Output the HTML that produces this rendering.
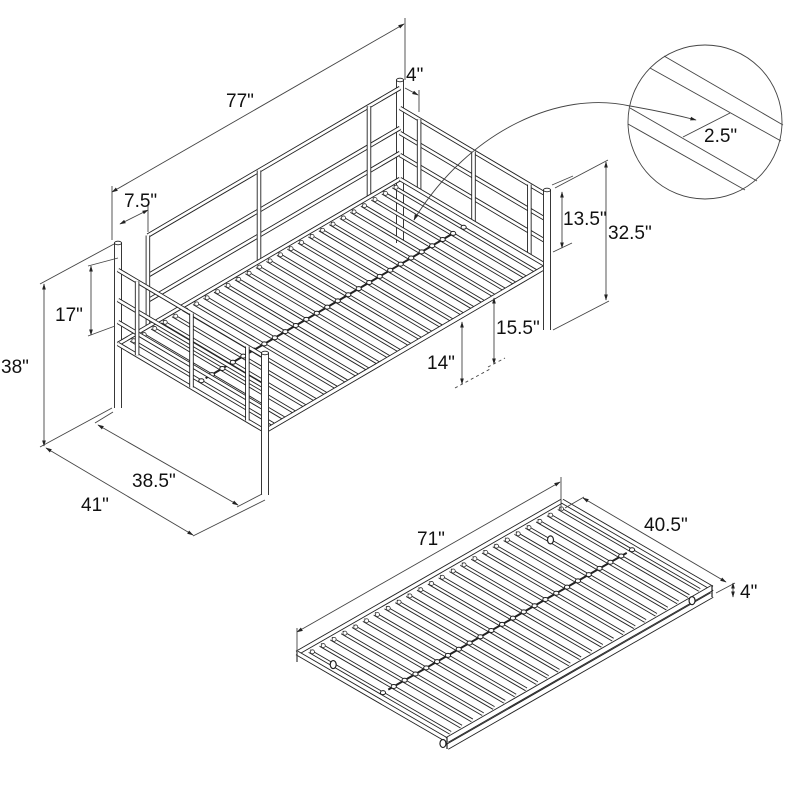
<!DOCTYPE html>
<html><head><meta charset="utf-8"><style>
html,body{margin:0;padding:0;background:#fff;}
svg{display:block;}
text{font-family:"Liberation Sans",sans-serif;font-size:19px;fill:#111;}
</style></head><body>
<svg id="s" width="800" height="800" viewBox="0 0 800 800" xmlns="http://www.w3.org/2000/svg">
<defs><marker id="a" viewBox="0 0 10 10" refX="9" refY="5" markerWidth="7" markerHeight="7" orient="auto-start-reverse"><path d="M0,2 L10,5 L0,8z" fill="#222"/></marker></defs>
<g id="g"></g>
<g stroke="#444" stroke-width="0.9" fill="none">
<line x1="112" y1="192" x2="404" y2="24" marker-start="url(#a)" marker-end="url(#a)"/>
<line x1="405" y1="18" x2="405" y2="80"/><line x1="112" y1="186" x2="112" y2="240"/>
<line x1="405" y1="88" x2="418" y2="95" marker-end="url(#a)"/><line x1="419" y1="90" x2="419" y2="112"/>
<line x1="120" y1="224" x2="148" y2="210" marker-start="url(#a)" marker-end="url(#a)"/><line x1="148" y1="205" x2="148" y2="232"/>
<line x1="91" y1="266" x2="91" y2="335" marker-start="url(#a)" marker-end="url(#a)"/>
<line x1="88" y1="266" x2="118" y2="258"/><line x1="88" y1="336" x2="115" y2="326"/>
<line x1="44" y1="284" x2="44" y2="446" marker-start="url(#a)" marker-end="url(#a)"/>
<line x1="40" y1="284" x2="114" y2="244"/><line x1="40" y1="447" x2="112" y2="408"/>
<line x1="98" y1="425" x2="238" y2="505" marker-start="url(#a)" marker-end="url(#a)"/>
<line x1="95" y1="423" x2="113" y2="412"/><line x1="237" y1="507" x2="262" y2="494"/>
<line x1="46" y1="448" x2="193" y2="535" marker-start="url(#a)" marker-end="url(#a)"/>
<line x1="193" y1="536" x2="265" y2="500"/>
<line x1="562" y1="192" x2="562" y2="248" marker-start="url(#a)" marker-end="url(#a)"/>
<line x1="552" y1="185" x2="573" y2="176" stroke-width="0.7"/><line x1="553" y1="252" x2="572" y2="243"/>
<line x1="606" y1="162" x2="606" y2="300" marker-start="url(#a)" marker-end="url(#a)"/>
<line x1="555" y1="188" x2="608" y2="160"/><line x1="553" y1="330" x2="609" y2="301"/>
<line x1="494" y1="298" x2="494" y2="364" marker-start="url(#a)" marker-end="url(#a)"/>
<line x1="488" y1="367" x2="505" y2="358" stroke-dasharray="3,3"/>
<line x1="462" y1="322" x2="462" y2="384" marker-start="url(#a)" marker-end="url(#a)"/>
<line x1="455" y1="388" x2="492" y2="368" stroke-dasharray="3,3"/>
<circle cx="705" cy="122" r="77"/>
<line x1="664" y1="56" x2="783" y2="125"/><line x1="650" y1="68" x2="781" y2="141"/>
<line x1="630" y1="108" x2="757" y2="181"/><line x1="628" y1="124" x2="745" y2="190"/>
<line x1="683" y1="137" x2="730" y2="113"/>
<path d="M415,218 C470,130 560,90 630,106 Q665,112 696,120" marker-end="url(#a)"/>
<line x1="415" y1="218" x2="414" y2="220" marker-end="url(#a)"/>
<line x1="297" y1="632" x2="560" y2="482" marker-start="url(#a)" marker-end="url(#a)"/>
<line x1="297" y1="628" x2="297" y2="662"/><line x1="561" y1="477" x2="561" y2="510"/>
<line x1="583" y1="498" x2="726" y2="582" marker-start="url(#a)" marker-end="url(#a)"/>
<line x1="565" y1="508" x2="584" y2="497"/><line x1="716" y1="593" x2="735" y2="583"/>
<line x1="733" y1="583" x2="733" y2="597" marker-start="url(#a)" marker-end="url(#a)"/>
</g>
<text x="226" y="107">77"</text>
<text x="406" y="81">4"</text>
<text x="124" y="207">7.5"</text>
<text x="55" y="321">17"</text>
<text x="1" y="373">38"</text>
<text x="132" y="487">38.5"</text>
<text x="81" y="511">41"</text>
<text x="563" y="225">13.5"</text>
<text x="608" y="239">32.5"</text>
<text x="496" y="334">15.5"</text>
<text x="427" y="369">14"</text>
<text x="704" y="142">2.5"</text>
<text x="417" y="545">71"</text>
<text x="644" y="531">40.5"</text>
<text x="740" y="598">4"</text>
</svg>
<script>
var g=document.getElementById('g'),NS='http://www.w3.org/2000/svg';
function el(n,a){var e=document.createElementNS(NS,n);for(var k in a)e.setAttribute(k,a[k]);g.appendChild(e);return e;}
function P(u,v,h){return [118+282*u+147*v,408-165*u+87*v-h];}
function Q(u,v,h){return [297+265*u+150*v,662-152*u+87*v-h];}
function tube(a,b,w){w=w||4.5;
 el('line',{x1:a[0],y1:a[1],x2:b[0],y2:b[1],stroke:'#222','stroke-width':w});
 el('line',{x1:a[0],y1:a[1],x2:b[0],y2:b[1],stroke:'#fff','stroke-width':w-1.8});}
function line(a,b,w){el('line',{x1:a[0],y1:a[1],x2:b[0],y2:b[1],stroke:'#222','stroke-width':w||1.5});}
function post(u,v,H){var a=P(u,v,0),b=P(u,v,H);tube(a,b,8);el('ellipse',{cx:b[0],cy:b[1],rx:3.6,ry:1.8,fill:'#fff',stroke:'#222','stroke-width':0.9});}
var D=64;
post(1,0,163);
[155,115,90].forEach(function(h){tube(P(0.106,0,h),P(1,0,h));});
[0.106,0.5,0.89].forEach(function(u){tube(P(u,0,D),P(u,0,155));});
[135,110,88].forEach(function(h){tube(P(1,0,h),P(1,1,h));});
[0.13,0.5,0.88].forEach(function(v){tube(P(1,v,D),P(1,v,135));});
post(0,0,165);
tube(P(0,0,D),P(1,0,D));tube(P(1,0,D),P(1,1,D));
for(var i=0;i<26;i++){var u=0.035+i*0.93/25;tube(P(u,0.02,D),P(u,0.99,D),4);}
line(P(0.05,0.5,D+1),P(0.93,0.5,D+1),2);
for(var i=0;i<26;i+=1){var u=0.035+i*0.93/25,c=P(u,0.5,D+1);el('ellipse',{cx:c[0],cy:c[1],rx:2.6,ry:2,fill:'#fff',stroke:'#222','stroke-width':1});}
for(var i=0;i<26;i+=1){var u=0.035+i*0.93/25,c=P(u,0.04,D+1);el('circle',{cx:c[0],cy:c[1],r:2,fill:'#fff',stroke:'#333','stroke-width':0.8});}
tube(P(0,0,D),P(0,1,D));tube(P(0,1,D),P(1,1,D),5);
post(1,1,140);
[138,108,86].forEach(function(h){tube(P(0,0,h),P(0,1,h));});
[0.13,0.5,0.88].forEach(function(v){tube(P(0,v,D),P(0,v,138));});
post(0,1,142);
var T=9;
tube(Q(0,0,T),Q(1,0,T),5);tube(Q(1,0,T),Q(1,1,T),5);
for(var i=0;i<24;i++){var u=0.03+i*0.94/23;tube(Q(u,0.03,T),Q(u,0.97,T),4);}
line(Q(0.05,0.52,T+1),Q(0.95,0.52,T+1),2);
for(var i=0;i<24;i++){var u=0.03+i*0.94/23,c=Q(u,0.52,T+1);el('ellipse',{cx:c[0],cy:c[1],rx:2.6,ry:2,fill:'#fff',stroke:'#222','stroke-width':1});
 c=Q(u,0.05,T+1);el('circle',{cx:c[0],cy:c[1],r:2,fill:'#fff',stroke:'#333','stroke-width':0.8});}
tube(Q(0,0,T),Q(0,1,T),5);
tube(Q(0,1,T),Q(1,1,T),6);
tube(Q(0,1,2),Q(1,1,2),6);
line(Q(1,1,T+3),Q(1,1,0),1.2);line(Q(0,1,T+3),Q(0,1,0),1.2);line(Q(0,0,T+3),Q(0,0,0),1.2);
[[0.03,0.92],[0.97,0.92],[0.08,0.1],[0.9,0.1]].forEach(function(p){var c=Q(p[0],p[1],-6);el('ellipse',{cx:c[0],cy:c[1],rx:3,ry:4,fill:'#fff',stroke:'#222','stroke-width':1.2});});
</script>
</body></html>
